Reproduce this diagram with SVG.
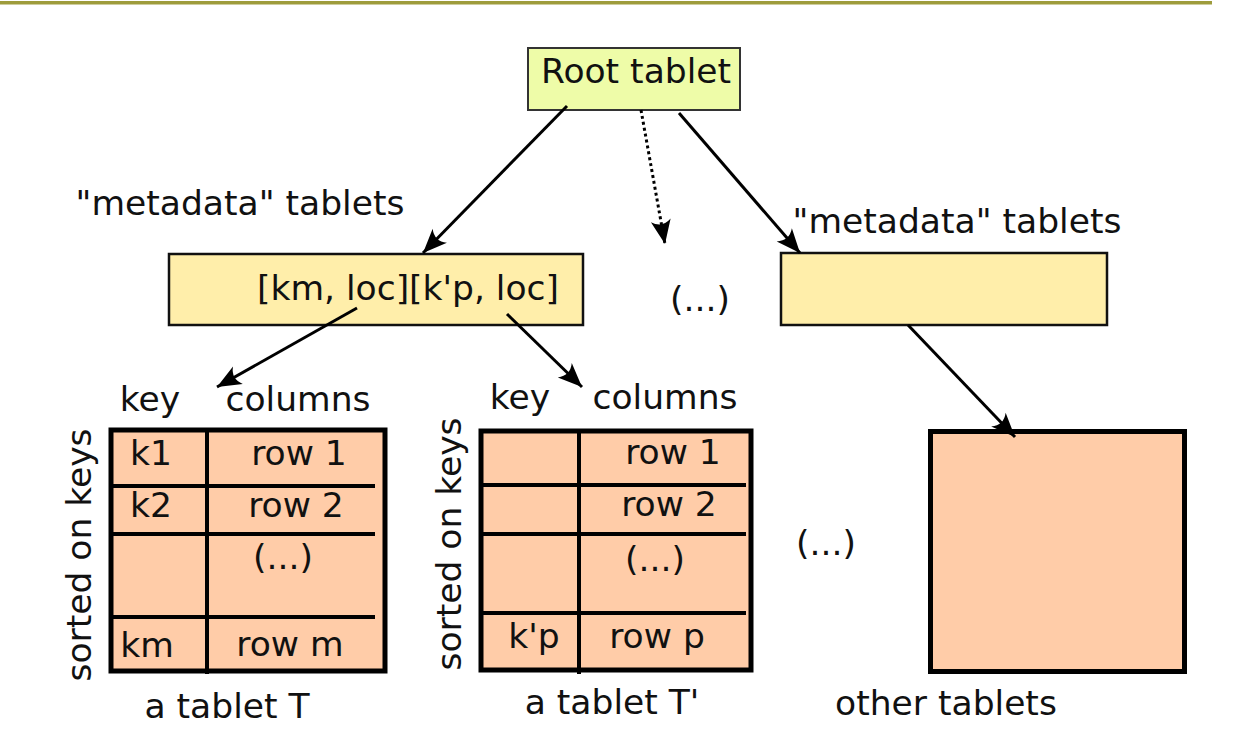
<svg xmlns="http://www.w3.org/2000/svg" width="1234" height="732" viewBox="0 0 1234 732">
<style>
  text { font-family: "DejaVu Sans", "Liberation Sans", sans-serif; font-size: 34.5px; fill: #111; }
  .c { text-anchor: middle; }
  .tbl { fill: #ffcca8; stroke: #000; stroke-width: 5; }
  .div { stroke: #000; stroke-width: 4; fill: none; }
  .meta { fill: #ffeeaa; stroke: #111; stroke-width: 2.5; }
  .conn { stroke: #000; stroke-width: 3; fill: none; marker-end: url(#arr); }
</style>
<defs>
  <marker id="arr" markerUnits="userSpaceOnUse" viewBox="-26 -12 28 24" refX="0" refY="0" markerWidth="28" markerHeight="24" orient="auto">
    <path d="M0,0 L-24,-10 Q-16,0 -24,10 Z" fill="#000"/>
  </marker>
</defs>
<rect x="0" y="1" width="1212" height="3.5" fill="#9e9c3c"/>

<g id="root">
  <rect x="528" y="48" width="212" height="62" fill="#eefca8" stroke="#333" stroke-width="2"/>
  <text class="c" x="636" y="83">Root tablet</text>
</g>

<g id="label-meta-left"><text class="c" x="240" y="215">"metadata" tablets</text></g>
<g id="label-meta-right"><text class="c" x="957" y="233">"metadata" tablets</text></g>

<g id="meta1">
  <rect class="meta" x="169" y="254" width="414" height="71"/>
  <text class="c" x="408" y="300">[km, loc][k'p, loc]</text>
</g>
<g id="ellipsis-mid"><text class="c" x="700" y="311">(...)</text></g>
<g id="meta2">
  <rect class="meta" x="781" y="253" width="326" height="72"/>
</g>

<g id="tabletT">
  <text class="c" x="150" y="411">key</text>
  <text class="c" x="298" y="411">columns</text>
  <rect class="tbl" x="111" y="430" width="274" height="241"/>
  <line class="div" x1="207" y1="428" x2="207" y2="674"/>
  <line class="div" x1="111" y1="486" x2="375" y2="486"/>
  <line class="div" x1="111" y1="534" x2="375" y2="534"/>
  <line class="div" x1="111" y1="617" x2="375" y2="617"/>
  <text class="c" x="151" y="465">k1</text>
  <text class="c" x="299" y="465">row 1</text>
  <text class="c" x="151" y="517">k2</text>
  <text class="c" x="296" y="517">row 2</text>
  <text class="c" x="283" y="569">(...)</text>
  <text class="c" x="147" y="657">km</text>
  <text class="c" x="290" y="656">row m</text>
  <text class="c" transform="translate(91,555) rotate(-90)" x="0" y="0">sorted on keys</text>
  <text class="c" x="227" y="718">a tablet T</text>
</g>

<g id="tabletT2">
  <text class="c" x="520" y="409">key</text>
  <text class="c" x="665" y="409">columns</text>
  <rect class="tbl" x="481" y="431" width="270" height="239"/>
  <line class="div" x1="579" y1="429" x2="579" y2="674"/>
  <line class="div" x1="483" y1="485" x2="746" y2="485"/>
  <line class="div" x1="483" y1="534" x2="746" y2="534"/>
  <line class="div" x1="483" y1="613" x2="746" y2="613"/>
  <text class="c" x="673" y="464">row 1</text>
  <text class="c" x="669" y="516">row 2</text>
  <text class="c" x="655" y="571">(...)</text>
  <text class="c" x="534" y="648">k'p</text>
  <text class="c" x="657" y="648">row p</text>
  <text class="c" transform="translate(461,544) rotate(-90)" x="0" y="0">sorted on keys</text>
  <text class="c" x="612" y="714">a tablet T'</text>
</g>

<g id="ellipsis-right"><text class="c" x="826" y="555">(...)</text></g>

<g id="other">
  <rect class="tbl" x="930.5" y="431.5" width="254" height="240"/>
  <text class="c" x="946" y="715">other tablets</text>
</g>

<g id="connectors">
  <line class="conn" x1="567" y1="106" x2="423" y2="253"/>
  <line class="conn" x1="641" y1="110" x2="665" y2="244" stroke-dasharray="3,3"/>
  <line class="conn" x1="679" y1="113" x2="800" y2="253"/>
  <line class="conn" x1="357" y1="308" x2="217" y2="387"/>
  <line class="conn" x1="507" y1="314" x2="582" y2="387"/>
  <line class="conn" x1="908" y1="325" x2="1015" y2="437"/>
</g>
</svg>
